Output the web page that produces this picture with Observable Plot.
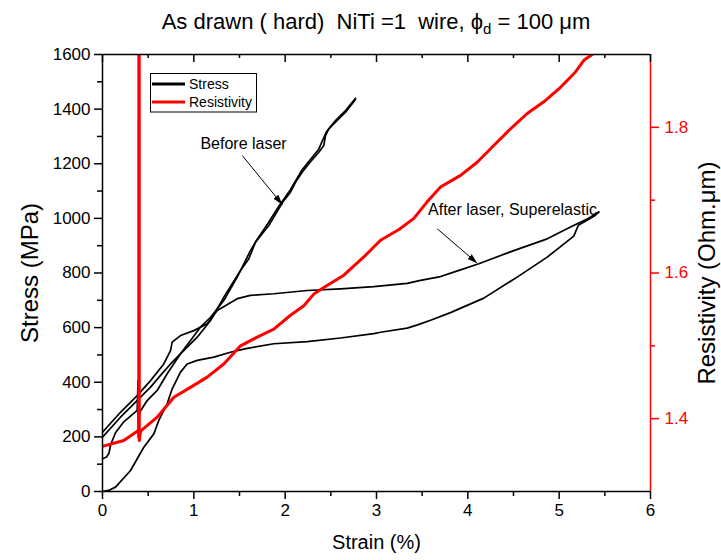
<!DOCTYPE html>
<html><head><meta charset="utf-8">
<script src="https://cdn.jsdelivr.net/npm/d3@7"></script>
<script src="https://cdn.jsdelivr.net/npm/@observablehq/plot@0.6"></script>
<style>body{margin:0;background:#fff;} svg text{white-space:pre;}</style>
</head><body><div id="chart"></div>
<script>
// ---- data (strain %, stress MPa) ----
const strainTicks = [0, 1, 2, 3, 4, 5, 6];
const strainMinorTicks = [0.5, 1.5, 2.5, 3.5, 4.5, 5.5];
const stressTicks = [0, 200, 400, 600, 800, 1000, 1200, 1400, 1600];
const stressMinorTicks = [100, 300, 500, 700, 900, 1100, 1300, 1500];
const resistivityTicks = [1.4, 1.6, 1.8];
const resistivityMinorTicks = [1.5, 1.7];
const resistivityDomain = [1.3, 1.9];

const beforeLaserB = [[0,199],[0.197,272],[0.343,321],[0.526,382],[0.635,425],[0.745,467],[0.854,504],[0.964,553],[1.073,602],[1.183,638],[1.328,699],[1.475,785],[1.62,882],[1.686,919],[1.818,985],[1.927,1043],[2.058,1105],[2.179,1175],[2.365,1252],[2.409,1285],[2.453,1318],[2.551,1358],[2.661,1395],[2.77,1440]];
const beforeLaserD = [[0,120],[0.044,126],[0.07,140],[0.09,172],[0.142,215],[0.233,255],[0.38,297],[0.389,406],[0.392,198],[0.405,289],[0.489,333],[0.599,370],[0.708,431],[0.854,504],[1.037,565],[1.183,626],[1.328,711],[1.511,809],[1.602,852],[1.675,913],[1.821,974],[1.93,1035],[1.985,1065],[2.058,1096],[2.113,1132],[2.186,1169],[2.259,1200],[2.368,1242],[2.423,1267],[2.442,1303],[2.478,1328],[2.551,1352],[2.661,1389],[2.77,1435]];
const afterLoading = [[0,217],[0.197,290],[0.38,351],[0.526,406],[0.671,467],[0.745,516],[0.763,547],[0.854,571],[1.0,589],[1.146,614],[1.256,663],[1.475,706],[1.62,718],[1.876,724],[2.241,736],[2.606,742],[2.97,750],[3.336,762],[3.482,773],[3.701,787],[3.846,803],[4.12,834],[4.503,882],[4.869,925],[5.124,968],[5.307,998],[5.434,1023]];
const afterUnloading = [[5.434,1023],[5.39,1010],[5.21,975],[5.16,935],[4.869,858],[4.54,785],[4.175,708],[3.81,655],[3.6,628],[3.45,610],[3.336,598],[3.044,583],[2.97,578],[2.606,562],[2.241,549],[1.876,541],[1.584,524],[1.475,516],[1.401,510],[1.219,492],[1.037,480],[0.927,467],[0.854,437],[0.763,376],[0.708,321],[0.616,260],[0.562,211],[0.452,162],[0.307,77],[0.142,16],[0.066,4],[0,0]];
// resistivity (Ohm.um) vs strain
const resistivity = [[0.0,1.362],[0.233,1.370],[0.397,1.384],[0.400,3.0],[0.403,1.370],[0.416,1.383],[0.599,1.402],[0.781,1.4295],[0.963,1.443],[1.146,1.457],[1.328,1.475],[1.511,1.500],[1.694,1.512],[1.876,1.523],[2.058,1.542],[2.204,1.555],[2.314,1.571],[2.423,1.580],[2.642,1.597],[2.861,1.622],[3.044,1.645],[3.25,1.660],[3.409,1.675],[3.55,1.697],[3.701,1.718],[3.920,1.734],[4.102,1.752],[4.284,1.775],[4.467,1.798],[4.650,1.819],[4.832,1.835],[5.015,1.855],[5.179,1.876],[5.270,1.892],[5.362,1.900],[5.45,1.91]];

const annotationLabels = ["Before laser", "After laser, Superelastic"];
const annotationTextPos = [[1.544, 1274], [4.489, 1032]];
const annotationArrows = [[1.530, 1230, 1.968, 1051], [3.665, 962, 4.103, 836]];

// ---- build ----
const stressMax = 1600;
const toY = r => (r - resistivityDomain[0]) / (resistivityDomain[1] - resistivityDomain[0]) * stressMax;
const fromY = v => resistivityDomain[0] + v / stressMax * (resistivityDomain[1] - resistivityDomain[0]);

const stressRows = [];
[["bB", beforeLaserB], ["bD", beforeLaserD], ["aL", afterLoading], ["aU", afterUnloading]]
  .forEach(([k, arr]) => arr.forEach(([s, v]) => stressRows.push({series: k, strain: s, stress: v})));
const resRows = resistivity.map(([s, r]) => ({strain: s, r}));
const annText = annotationLabels.map((t, i) => ({t, x: annotationTextPos[i][0], y: annotationTextPos[i][1]}));
const annArrows = annotationArrows.map(([x1, y1, x2, y2]) => ({x1, y1, x2, y2}));

const W = 721, H = 560, mT = 54, mR = 71, mB = 69, mL = 102;
const innerH = H - mT - mB;

function filledArrow(color) {
  const m = d3.create("svg:marker")
    .attr("viewBox", "0 -4 10 8").attr("markerWidth", 10).attr("markerHeight", 8)
    .attr("markerUnits", "userSpaceOnUse").attr("refX", 10).attr("refY", 0).attr("orient", "auto");
  m.append("path").attr("d", "M0,-3.2L10,0L0,3.2Z").attr("fill", color).attr("stroke", "none");
  return m.node();
}

const chart = Plot.plot({
  width: W, height: H,
  marginTop: mT, marginRight: mR, marginBottom: mB, marginLeft: mL,
  style: {fontFamily: "Arial, 'Liberation Sans', sans-serif", fontSize: "17px", background: "#fff", color: "#000"},
  x: {domain: [0, 6]},
  y: {domain: [0, stressMax]},
  marks: [
    Plot.line(stressRows, {x: "strain", y: "stress", z: "series", stroke: "#000", strokeWidth: 1.7}),
    Plot.line(resRows, {x: "strain", y: d => toY(d.r), stroke: "#ff0000", strokeWidth: 3, clip: true}),
    Plot.ruleY([0], {stroke: "#000", strokeWidth: 1.5}),
    Plot.ruleY([stressMax], {stroke: "#000", strokeWidth: 1.5}),
    Plot.ruleX([0], {stroke: "#000", strokeWidth: 1.5}),
    Plot.ruleX([6], {stroke: "#ff0000", strokeWidth: 1.5}),
    Plot.axisX(strainTicks, {tickSize: 8, tickPadding: 4, label: null, strokeWidth: 1.5, tickFormat: d => String(d)}),
    Plot.axisX(strainMinorTicks, {tickSize: 5, tickFormat: () => "", label: null, strokeWidth: 1.5}),
    Plot.tickX(strainTicks, {x: d => d, insetBottom: innerH - 8, stroke: "#000", strokeWidth: 1.5}),
    Plot.tickX(strainMinorTicks, {x: d => d, insetBottom: innerH - 4, stroke: "#000", strokeWidth: 1.5}),
    Plot.axisY(stressTicks, {anchor: "left", tickSize: 8, tickPadding: 4, label: null, strokeWidth: 1.5, tickFormat: d => String(d)}),
    Plot.axisY(stressMinorTicks, {anchor: "left", tickSize: 5, tickFormat: () => "", label: null, strokeWidth: 1.5}),
    Plot.axisY(resistivityTicks.map(toY), {anchor: "right", tickSize: 8, tickPadding: 6, label: null, color: "#ff0000", strokeWidth: 1.5, tickFormat: d => fromY(d).toFixed(1)}),
    Plot.axisY(resistivityMinorTicks.map(toY), {anchor: "right", tickSize: 4, tickFormat: () => "", label: null, color: "#ff0000", strokeWidth: 1.5}),
    Plot.text(["Stress (MPa)"], {frameAnchor: "left", textAnchor: "middle", rotate: -90, dx: -72, fontSize: 24, fill: "#000"}),
    Plot.text(["Resistivity (Ohm.\u03bcm)"], {frameAnchor: "right", textAnchor: "middle", rotate: -90, dx: 57, fontSize: 24, fill: "#000"}),
    Plot.text(["Strain (%)"], {frameAnchor: "bottom", textAnchor: "middle", dy: 57, fontSize: 20, fill: "#000"}),
    Plot.text(annText, {x: "x", y: "y", text: "t", fontSize: 16, fill: "#000"}),
    Plot.link(annArrows, {x1: "x1", y1: "y1", x2: "x2", y2: "y2", stroke: "#000", strokeWidth: 1, markerEnd: filledArrow})
  ]
});
document.getElementById("chart").appendChild(chart);

const svg = d3.select(chart);
const title = svg.append("text")
  .attr("x", mL + (W - mL - mR) / 2).attr("y", 29)
  .attr("text-anchor", "middle").attr("font-size", 22).attr("fill", "#000");
title.append("tspan").text("As drawn ( hard)  NiTi =1  wire, \u03d5");
title.append("tspan").attr("dy", 5).attr("font-size", 15).text("d");
title.append("tspan").attr("dy", -5).text(" = 100 \u03bcm");

const lg = svg.append("g").attr("text-anchor", "start");
lg.append("rect").attr("x", 150.5).attr("y", 73.5).attr("width", 106).attr("height", 38.5)
  .attr("fill", "#fff").attr("stroke", "#000").attr("stroke-width", 1);
[["Stress", "#000", 84], ["Resistivity", "#ff0000", 102]].forEach(([t, c, y]) => {
  lg.append("line").attr("x1", 152).attr("x2", 185).attr("y1", y).attr("y2", y)
    .attr("stroke", c).attr("stroke-width", 3);
  lg.append("text").attr("x", 189).attr("y", y + 5).attr("font-size", 14).attr("fill", "#000")
    .attr("text-anchor", "start").text(t);
});
</script>
</body></html>
